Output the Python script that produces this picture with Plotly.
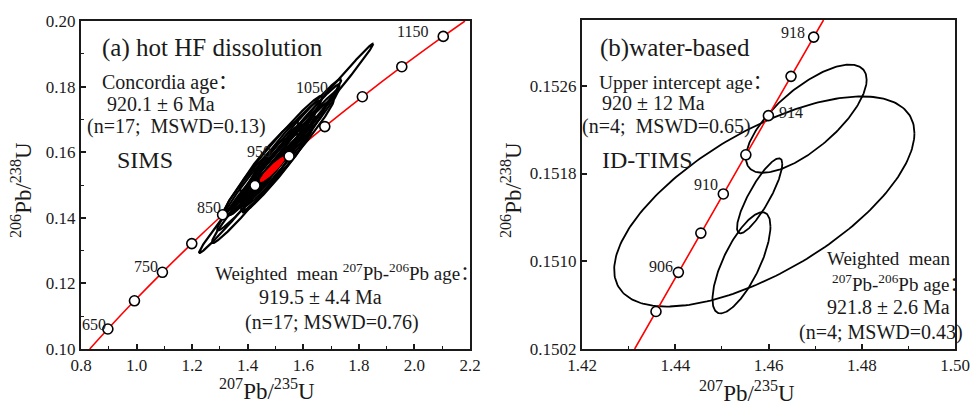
import numpy as np
import plotly.graph_objects as go

# ---------------- DATA ----------------
# Panel (a): concordia reference ages (Ma) and their ratios
conc_a_age = [650, 700, 750, 800, 850, 900, 950, 1000, 1050, 1100, 1150]
conc_a_x = [0.8967, 0.9924, 1.0930, 1.1987, 1.3096, 1.4262, 1.5488, 1.6774, 1.8126, 1.9545, 2.1037]
conc_a_y = [0.10609, 0.11470, 0.12338, 0.13213, 0.14094, 0.14983, 0.15878, 0.16781, 0.17690, 0.18607, 0.19531]
conc_a_labels = [650, 750, 850, 950, 1050, 1150]
conc_a_start = (0.8314, 0.100)
conc_a_end = (2.1819, 0.200)

# Panel (a): SIMS spot ellipses (207Pb/235U, 206Pb/238U, 2s errors, rho)
sims_x = [1.5971, 1.4340, 1.4231, 1.4936, 1.5470, 1.4562, 1.5041, 1.5504, 1.4278,
          1.5272, 1.4766, 1.5872, 1.4982, 1.4531, 1.5334, 1.4874, 1.5331]
sims_y = [0.16740, 0.15035, 0.14756, 0.15961, 0.15984, 0.15433, 0.15494, 0.16355, 0.15236,
          0.15924, 0.15882, 0.16493, 0.15337, 0.15257, 0.16276, 0.15610, 0.16080]
sims_ex = [0.25477, 0.20874, 0.15144, 0.17473, 0.16308, 0.14022, 0.12853, 0.18591, 0.11727,
           0.15190, 0.10575, 0.13943, 0.11649, 0.16308, 0.12853, 0.09400, 0.19732]
sims_ey = [0.025705, 0.021046, 0.015234, 0.017577, 0.016406, 0.014084, 0.012910, 0.018726, 0.011758,
           0.015257, 0.010592, 0.014044, 0.011718, 0.016406, 0.012910, 0.009416, 0.019886]
sims_rho = [0.9967, 0.9926, 0.9796, 0.9796, 0.9796, 0.9708, 0.9708, 0.9869, 0.9604,
            0.9708, 0.9547, 0.9869, 0.9796, 0.9796, 0.9708, 0.9547, 0.9899]
# Concordia age ellipse
cage_x, cage_y, cage_ex, cage_ey, cage_rho = 1.4892, 0.15482, 0.0435, 0.00365, 0.945

# Panel (b): concordia reference ages
conc_b_age = [904, 906, 908, 910, 912, 914, 916, 918]
conc_b_x = [1.43587, 1.44067, 1.44549, 1.45031, 1.45514, 1.45998, 1.46483, 1.46969]
conc_b_y = [0.150542, 0.150899, 0.151257, 0.151614, 0.151971, 0.152328, 0.152686, 0.153044]
conc_b_labels = [906, 910, 914, 918]
conc_b_start = (1.43129, 0.1502)
conc_b_end = (1.47180, 0.1532)

# Panel (b): ID-TIMS ellipses
tims_x = [1.4681, 1.4591, 1.4581, 1.4542]
tims_y = [0.15230, 0.151545, 0.151597, 0.150986]
tims_ex = [0.01295, 0.0322, 0.00486, 0.00622]
tims_ey = [0.000493, 0.000958, 0.000342, 0.000461]
tims_rho = [0.72, 0.65, 0.85, 0.72]

# ---------------- HELPERS ----------------
W, H = 974, 405
FONT = "Liberation Serif, 'Times New Roman', 'Noto Sans CJK SC', serif"
INK = "#1a1a1a"


def ellipse(cx, cy, ex, ey, rho, n=241):
    t = np.linspace(0, 2 * np.pi, n)
    x = cx + ex * np.cos(t)
    y = cy + ey * (rho * np.cos(t) + np.sqrt(1 - rho ** 2) * np.sin(t))
    return list(x), list(y)


def ellipses(xs, ys, exs, eys, rhos):
    X, Y = [], []
    for a in zip(xs, ys, exs, eys, rhos):
        ex_, ey_ = ellipse(*a)
        X += ex_ + [None]
        Y += ey_ + [None]
    return X, Y


fig = go.Figure()

# ---- Panel (a) ----
fig.add_trace(go.Scatter(x=[conc_a_start[0]] + conc_a_x + [conc_a_end[0]],
                         y=[conc_a_start[1]] + conc_a_y + [conc_a_end[1]],
                         mode="lines", line=dict(color="red", width=1.6, shape="spline"),
                         xaxis="x", yaxis="y", hoverinfo="skip"))
ex_, ey_ = ellipses(sims_x, sims_y, sims_ex, sims_ey, sims_rho)
fig.add_trace(go.Scatter(x=ex_, y=ey_, mode="lines", line=dict(color="black", width=2.2),
                         xaxis="x", yaxis="y", hoverinfo="skip"))
cx_, cy_ = ellipse(cage_x, cage_y, cage_ex, cage_ey, cage_rho)
fig.add_trace(go.Scatter(x=cx_, y=cy_, mode="lines", fill="toself", fillcolor="red",
                         line=dict(color="red", width=1.5), xaxis="x", yaxis="y", hoverinfo="skip"))
fig.add_trace(go.Scatter(x=conc_a_x, y=conc_a_y, mode="markers",
                         marker=dict(size=10, color="white", line=dict(color="black", width=1.6)),
                         xaxis="x", yaxis="y", hoverinfo="skip"))

# ---- Panel (b) ----
ex_, ey_ = ellipses(tims_x, tims_y, tims_ex, tims_ey, tims_rho)
fig.add_trace(go.Scatter(x=ex_, y=ey_, mode="lines", line=dict(color="black", width=1.8),
                         xaxis="x2", yaxis="y2", hoverinfo="skip"))
fig.add_trace(go.Scatter(x=[conc_b_start[0]] + conc_b_x + [conc_b_end[0]],
                         y=[conc_b_start[1]] + conc_b_y + [conc_b_end[1]],
                         mode="lines", line=dict(color="red", width=1.6),
                         xaxis="x2", yaxis="y2", hoverinfo="skip"))
fig.add_trace(go.Scatter(x=conc_b_x, y=conc_b_y, mode="markers",
                         marker=dict(size=10, color="white", line=dict(color="black", width=1.6)),
                         xaxis="x2", yaxis="y2", hoverinfo="skip"))


def axis_style(dom, rng, dtick, minor_dtick, fmt, anchor, tick0=None):
    d = dict(domain=dom, range=rng, dtick=dtick, tickformat=fmt, anchor=anchor,
             automargin=False,
             showline=True, mirror=True, linewidth=2, linecolor=INK,
             ticks="inside", ticklen=5, tickwidth=1.5, tickcolor=INK,
             showgrid=False, zeroline=False,
             tickfont=dict(family=FONT, size=17, color=INK))
    if tick0 is not None:
        d["tick0"] = tick0
    if minor_dtick:
        d["minor"] = dict(dtick=minor_dtick, ticks="inside", ticklen=3, tickwidth=1.2, tickcolor=INK,
                          showgrid=False)
    return d


ybot = 1 - 349 / H
fig.update_layout(
    width=W, height=H, margin=dict(l=0, r=0, t=0, b=0, autoexpand=False),
    paper_bgcolor="white", plot_bgcolor="white", showlegend=False,
    xaxis=axis_style([81 / W, 470 / W], [0.8, 2.2], 0.2, 0.1, ".1f", "y"),
    yaxis=axis_style([ybot, 1 - 21 / H], [0.10, 0.20], 0.02, 0.01, ".2f", "x"),
    xaxis2=axis_style([582 / W, 955 / W], [1.42, 1.50], 0.02, 0.01, ".2f", "y2"),
    yaxis2=axis_style([ybot, 1 - 20 / H], [0.1502, 0.1532], 0.0008, None, ".4f", "x2", tick0=0.1502),
)

ann = []


def txt(text, px, py, size=20, anchor="left", angle=0):
    ann.append(dict(text=text, x=px / W, y=1 - py / H, xref="paper", yref="paper",
                    xanchor=anchor, yanchor="middle", showarrow=False, textangle=angle,
                    font=dict(family=FONT, size=size, color=INK)))


NB = "\u00a0"
# Panel (a) texts
txt("(a) hot HF dissolution", 100, 48, 25)
txt("Concordia age：", 100, 82, 20)
txt("920.1 ± 6 Ma", 105, 104, 20)
txt("(n=17;" + NB + NB + "MSWD=0.13)", 85, 127, 20)
txt("SIMS", 115, 160, 24)
txt("Weighted" + NB + NB + "mean <sup>207</sup>Pb-<sup>206</sup>Pb age：", 213, 272, 19)
txt("919.5 ± 4.4 Ma", 257, 297, 20)
txt("(n=17; MSWD=0.76)", 243, 322, 20)
# Panel (b) texts
txt("(b)water-based", 598, 48, 25)
txt("Upper intercept age：", 597, 82, 19.5)
txt("920 ± 12 Ma", 600, 103, 20)
txt("(n=4;" + NB + NB + "MSWD=0.65)", 580, 127, 20)
txt("ID-TIMS", 600, 160, 24)
txt("Weighted" + NB + NB + "mean", 825, 258, 19)
txt("<sup>207</sup>Pb-<sup>206</sup>Pb age：", 830, 283, 19)
txt("921.8 ± 2.6 Ma", 825, 307, 20)
txt("(n=4; MSWD=0.43)", 797, 332, 20)
# Axis titles
txt("<sup>207</sup>Pb/<sup>235</sup>U", 267, 389, 23, "center")
txt("<sup>207</sup>Pb/<sup>235</sup>U", 747, 391, 23, "center")
txt("<sup>206</sup>Pb/<sup>238</sup>U", 21, 190, 23, "center", -90)
txt("<sup>206</sup>Pb/<sup>238</sup>U", 511, 190, 23, "center", -90)

# Concordia age labels: (xshift, yshift, anchor) styling per label
lab_style_a = {650: (0, 5, "right"), 750: (-2, 6, "right"), 850: (0, 7, "right"),
               950: (-16, 5, "right"), 1050: (-32, 9, "right"), 1150: (-13, 5, "right")}
lab_style_b = {906: (-3, 6, "right"), 910: (-3, 9, "right"), 914: (9, 3, "left"), 918: (-7, 5, "right")}
for age in conc_a_labels:
    i = conc_a_age.index(age)
    dx, dy, an = lab_style_a[age]
    ann.append(dict(text=str(age), x=conc_a_x[i], y=conc_a_y[i], xref="x", yref="y",
                    xanchor=an, yanchor="middle", xshift=dx, yshift=dy, showarrow=False,
                    font=dict(family=FONT, size=16, color=INK)))
for age in conc_b_labels:
    i = conc_b_age.index(age)
    dx, dy, an = lab_style_b[age]
    ann.append(dict(text=str(age), x=conc_b_x[i], y=conc_b_y[i], xref="x2", yref="y2",
                    xanchor=an, yanchor="middle", xshift=dx, yshift=dy, showarrow=False,
                    font=dict(family=FONT, size=16, color=INK)))

fig.update_layout(annotations=ann)
fig.write_html("out.html", config={"displayModeBar": False},
               post_script="document.body.style.margin='0';document.body.style.overflow='hidden';")
